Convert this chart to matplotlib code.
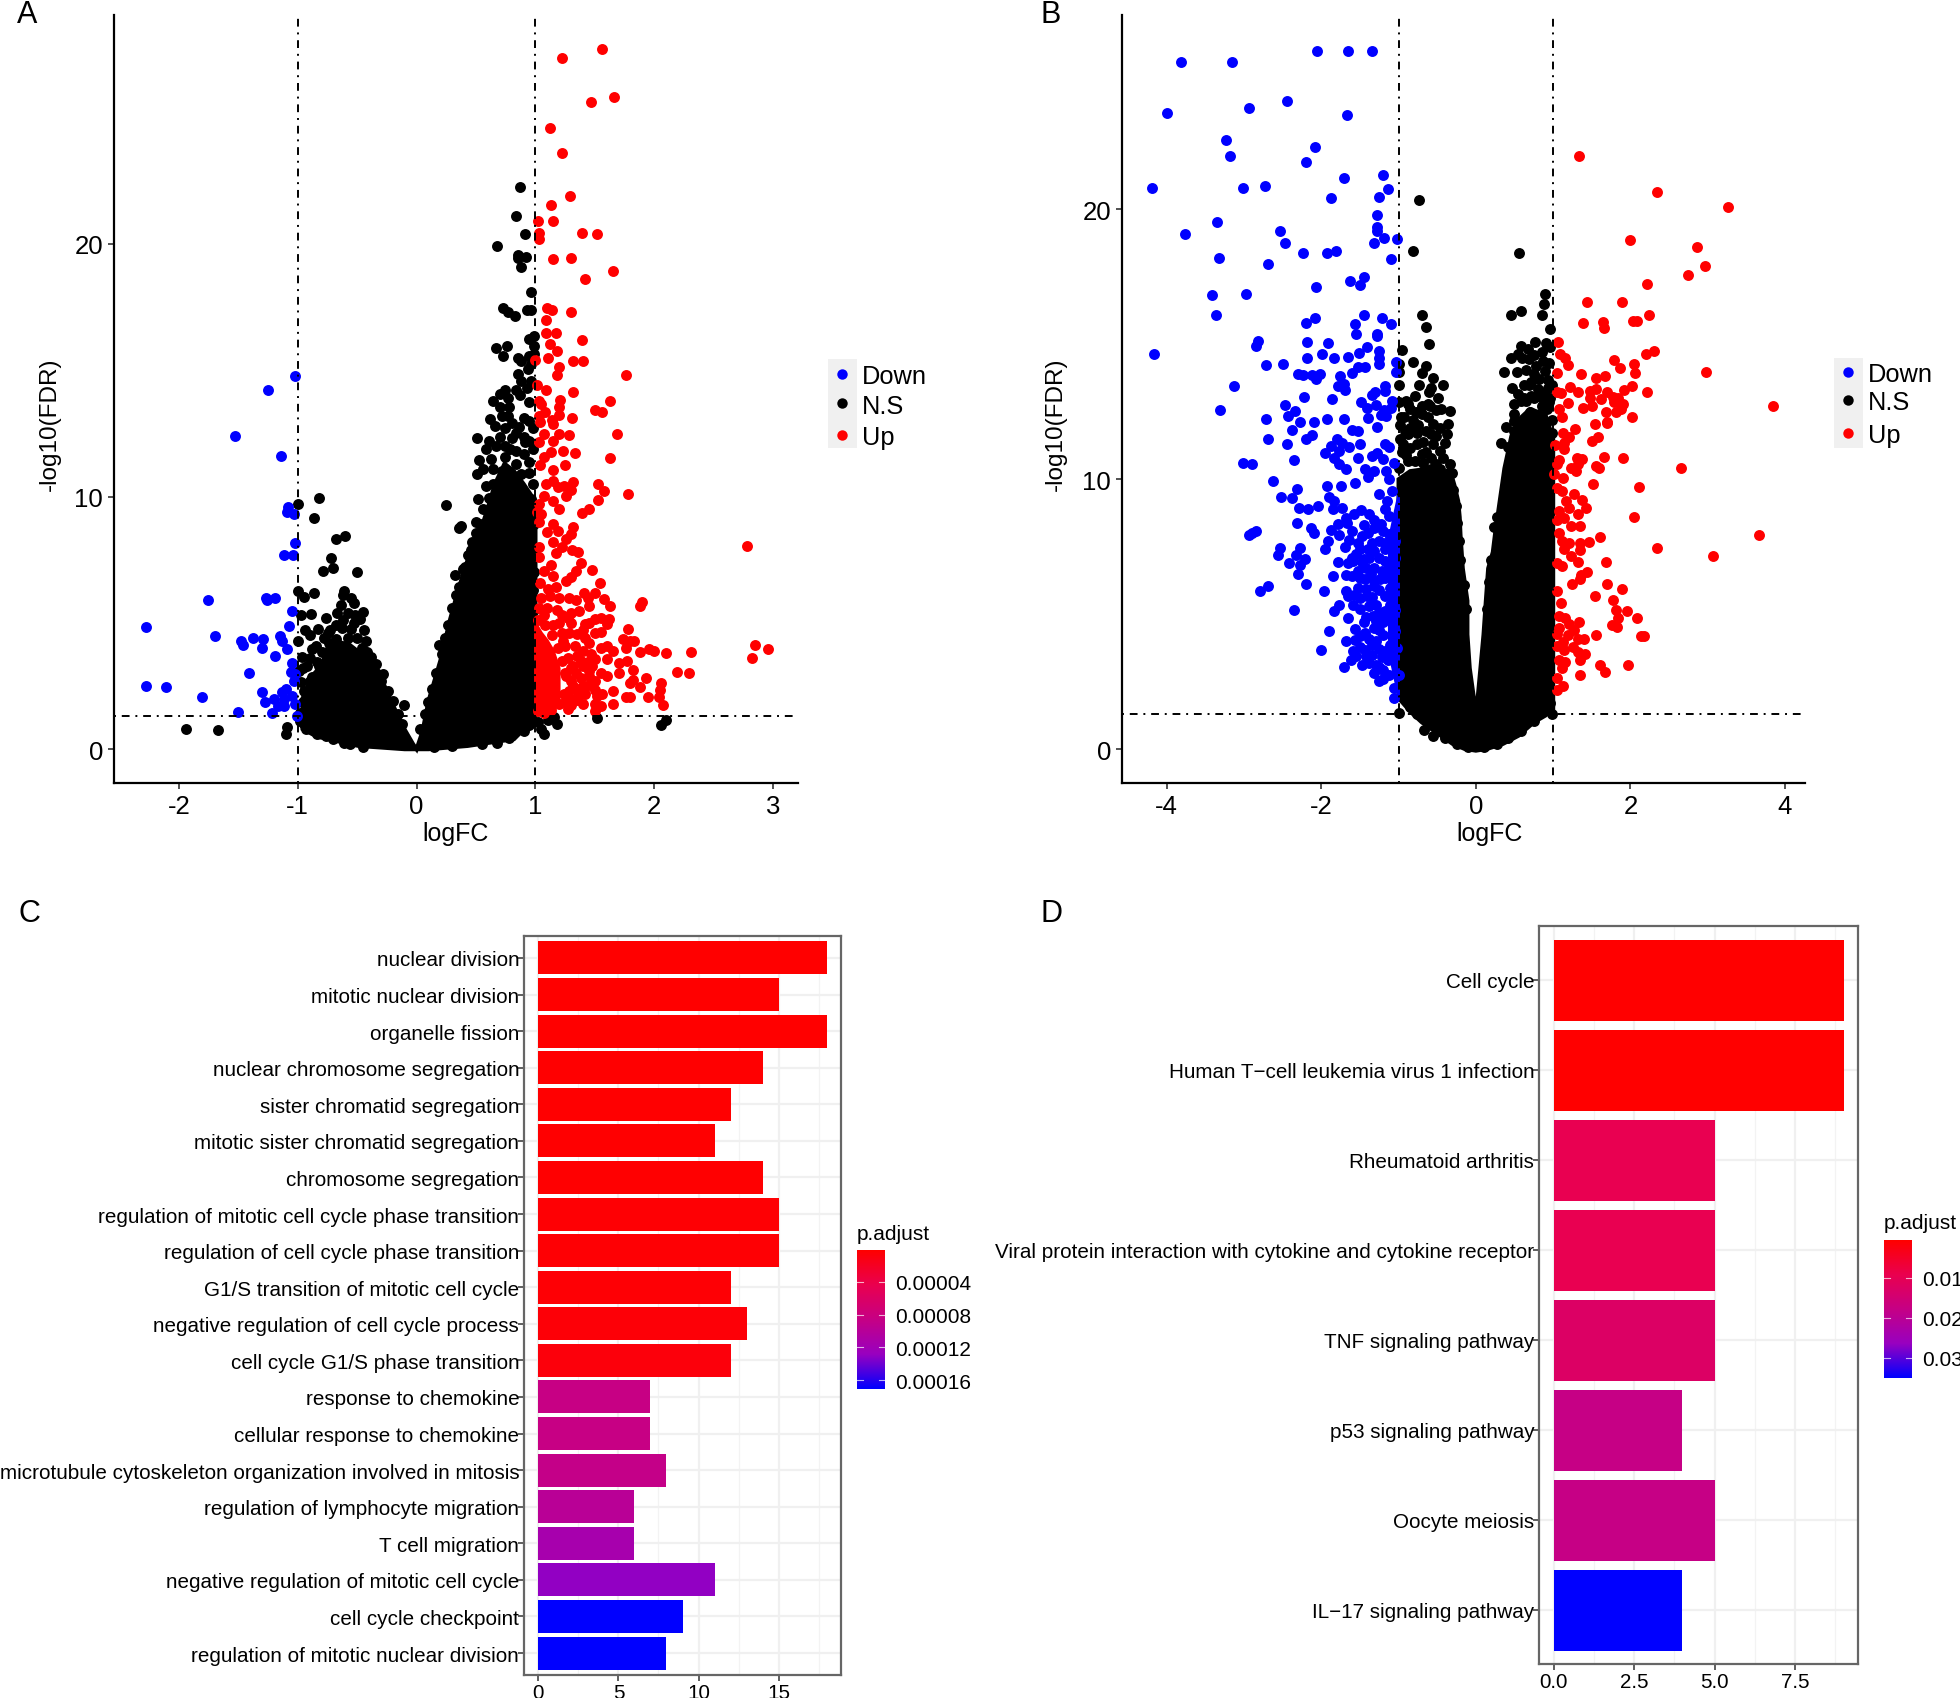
import matplotlib
matplotlib.use("Agg")
import matplotlib.pyplot as plt
import numpy as np
from matplotlib.colors import LinearSegmentedColormap
from matplotlib.lines import Line2D
from matplotlib.patches import Rectangle

plt.rcParams['font.family'] = ['Liberation Sans', 'DejaVu Sans']
plt.rcParams['axes.unicode_minus'] = False

W, H = 1960, 1699

# panel A as (logFC, -log10 FDR)
a_down = [(-1.02,14.77),(-1.25,14.23),(-1.53,12.4),(-1.14,11.6),(-1.08,9.6),(-1.09,9.37),(-1.03,9.3),(-1.02,8.15),
          (-1.12,7.7),(-1.04,7.67),(-1.76,5.92),(-1.27,5.98),(-1.26,5.9),(-1.19,6.0),(-1.05,5.48),(-2.28,4.83),
          (-1.07,4.89),(-1.70,4.46),(-1.48,4.3),(-1.46,4.13),(-1.38,4.4),(-1.29,4.35),(-1.15,4.49),(-1.13,4.29),
          (-1.30,4.0),(-1.09,3.97),(-1.19,3.7),(-1.05,3.4),(-1.41,3.0),(-1.06,3.06),(-1.02,2.97),(-1.03,2.68),
          (-2.28,2.5),(-2.11,2.46),(-1.81,2.07),(-1.10,2.38),(-1.30,2.25),(-1.13,2.25),(-1.05,2.1),(-1.20,1.98),
          (-1.28,1.88),(-1.12,1.98),(-1.17,1.72),(-1.12,1.69),(-1.02,1.78),(-1.5,1.47),(-1.22,1.45),(-1.01,1.32)]
a_up = [(1.56,27.7),(1.22,27.36),(1.66,25.8),(1.47,25.6),(1.12,24.58),(1.22,23.6),(1.29,21.9),(1.13,21.54),(1.02,20.9),
        (1.15,20.9),(1.03,20.43),(1.39,20.43),(1.52,20.4),(1.03,20.2),(1.15,19.4),(1.30,19.44),(1.65,18.94),(1.42,18.6),
        (1.1,17.46),(1.14,17.4),(1.3,17.3),(1.09,17),(1.09,16.46),(1.17,16.47),(1.39,16.2),(1.12,16.04),(1.18,15.77),
        (1.11,15.5),(1.0,15.4),(1.32,15.36),(1.4,15.35),(1.2,15.14),(1.18,14.8),(1.76,14.8),(1.01,14.43),(1.09,14.2),
        (1.32,14.12),(1.21,13.83),(1.03,13.8),(1.05,13.66),(1.63,13.77),(1.2,13.53),(1.08,13.33),(1.5,13.42),(1.56,13.36),
        (1.03,13.2),(1.2,13.23),(1.14,13.03),(1.31,13.1),(1.04,12.95),(1.15,12.88),(1.2,12.48),(1.28,12.42),(1.69,12.48),
        (1.07,12.48),(1.15,12.2),(1.03,12.15),(1.23,11.8),(1.33,11.73),(1.13,11.76),(1.07,11.56),(1.63,11.53),(1.04,11.23),
        (1.25,11.23),(1.15,11.06),(1.53,10.5),(1.32,10.57),(1.58,10.2),(1.78,10.1),(1.15,10.63),(1.09,10.5),(1.19,10.37),
        (1.24,10.43),(1.3,10.24),(1.26,10.04),(1.07,10.04),(1.15,9.84),(1.53,9.87),(1.03,9.7),(1.2,9.5),(1.45,9.5),(1.39,9.34),
        (1.01,9.38),(1.05,9.31),(1.03,8.98),(1.15,8.92),(1.32,8.78),(1.19,8.65),(1.3,8.52),(1.1,8.61),(1.26,8.32),(1.15,8.19),
        (1.03,7.99),(1.22,7.99),(1.31,7.9),(1.36,7.79),(1.17,7.78),(2.78,8.03),(1.03,7.6),(1.38,7.36),(1.13,7.3),(1.48,7.09),
        (1.34,7.07),(1.07,7.07),(1.15,6.87),(1.3,6.83),(1.54,6.59),(1.26,6.67),(1.04,6.57),(1.17,6.43),(1.11,6.34),(1.41,6.2),
        (1.5,6.17),(1.44,5.98),(1.58,5.94),(1.28,5.98),(1.34,5.9),(1.9,5.84),(1.88,5.65),(1.63,5.65),(1.45,5.68),(1.05,6.0),
        (1.78,4.75),(1.74,4.37),(1.8,4.3),(1.83,4.28),(1.76,4.0),(1.88,3.85),(1.96,3.95),(2.0,3.87),(2.1,3.8),(2.31,3.85),
        (2.85,4.14),(2.96,3.95),(2.82,3.6),(1.77,3.5),(1.82,3.15),(2.19,3.05),(2.29,3.0),(1.93,2.8),(1.82,2.75),(1.8,2.6),
        (1.88,2.45),(2.06,2.6),(2.05,2.35),(2.04,2.05),(1.95,2.05),(1.8,2.05),(1.76,2.05),(2.07,1.75),(1.65,2.3),(1.65,1.8),
        (1.5,1.5),(1.52,2.1),(1.56,2.2),(1.5,2.7),(1.6,2.9),(1.7,3.0),(1.7,3.4),(1.65,3.9),(1.55,4.0),(1.6,4.1),(1.5,4.6),
        (1.55,4.65),(1.6,4.95),(1.5,5.15),(1.55,5.2),(1.62,5.15),(1.45,5.0),(1.4,4.7),(1.42,4.4),(1.45,4.2),(1.35,4.55),
        (1.3,5.0),(1.3,5.4),(1.37,5.45),(1.28,4.6),(1.4,3.9),(1.47,3.75),(1.35,3.7),(1.5,3.55),(1.4,3.3),(1.32,3.3),(1.45,3.1),
        (1.55,3.0),(1.38,2.8),(1.45,2.55),(1.3,2.7),(1.35,2.4),(1.42,2.2),(1.5,2.35),(1.4,1.8),(1.3,2.0),(1.35,1.95),(1.5,1.8),
        (1.3,1.75),(1.55,1.7),(1.27,1.6),(1.25,3.0),(1.27,3.6),(1.25,4.1),(1.22,4.6),(1.22,5.3),(1.18,5.5),(1.2,6.0),(1.12,6.05),
        (1.1,5.6),(1.2,5.0),(1.15,4.9),(1.07,5.3),(1.03,5.6),(1.3,3.2),(1.28,2.3),(1.23,4.3),(1.33,4.1),(1.38,3.5),(1.45,2.9),
        (1.02,5.1),(1.08,4.9),(1.14,4.5),(1.19,4.0),(1.22,3.5),(1.26,2.9),(1.24,2.2),(1.2,1.8),(1.13,1.55),(1.07,1.45),(1.02,1.5),
        (1.34,3.0),(1.36,2.1),(1.44,3.45),(1.25,1.85),(1.6,3.55),(1.32,2.5),(1.42,4.95),(1.27,5.2),(1.48,3.3),(1.4,2.5)]
a_ns = [(.87,22.27),(.84,21.1),(.91,20.4),(.68,19.93),(.85,19.57),(.92,19.5),(.85,19.46),(.88,19.1),(.965,18.1),(.73,17.46),
        (.77,17.3),(.83,17.16),(.93,17.4),(.965,17.4),(.99,16.37),(.95,16.23),(.67,15.86),(.76,15.96),(.73,15.56),(.99,15.97),
        (.85,15.47),(.88,15.38),(.99,15.64),(.95,15.55),(.96,15.25),(.94,15.05),(.85,14.83),(.88,14.58),(.965,14.58),(.93,14.3),
        (.84,14.2),(.74,14.2),(.7,14.05),(.64,13.8),(.77,13.9),(.87,14.0),(.95,13.75),(.7,13.55),(.78,13.55),(.62,13.05),
        (.72,13.2),(.77,13.2),(.95,13.0),(.865,12.75),(.84,12.5),(.51,12.3),(.61,12.2),(.70,12.35),(.8,12.3),(.9,12.35),(.95,12.2),
        (.74,12.0),(.84,11.8),(.915,12.15),(.525,11.45),(.625,11.5),(.74,11.55),(.84,11.3),(.95,11.35),(.51,10.9),(.645,11.1),
        (.95,10.95),(.52,9.9),(.61,9.95),(.7,10.1),(.25,9.68),(.375,8.85),(.36,8.75),(.5,9.0),(.5,8.55),(.965,8.5),(.43,7.7),
        (.39,7.13),(.32,6.9),(.19,4.12),(-.11,1.76),(.10,1.85),(.21,3.76),
        (.66,12.8),(.74,12.7),(.8,12.9),(.9,13.1),(.98,12.7),(.67,12.0),(.79,11.9),(.9,11.7),(.98,11.9),(.58,11.9),(.56,11.1),
        (.72,11.0),(.79,10.8),(.88,10.9),(.98,10.5),(.58,10.4),(.64,10.5),(.56,9.5),(.9,9.9),(.96,9.9),(.47,8.2),(.53,8.9),
        (.41,7.2),(.46,7.9),(.36,6.4),(.3,5.6),(.26,4.9),(.24,4.4),(.16,3.0),(.13,2.4),(.07,1.4),(.03,.8),(.36,5.9),(.33,6.1),
        (.97,9.4),(.99,8.9),(.98,7.9),(.99,7.0),(.98,6.3),(.99,5.5),
        (-.82,9.93),(-1.0,9.7),(-.86,9.15),(-.6,8.45),(-.68,8.3),(-.72,7.57),(-.7,7.17),(-.79,7.04),(-.505,7.03),(-1,6.27),(-.86,6.2),
        (-.95,6.04),(-.61,6.27),(-.62,6.1),(-.55,6.0),(-.53,5.77),(-.64,5.72),(-.45,5.42),(-.97,5.3),(-.89,5.35),(-.76,5.2),
        (-.475,5.15),(-.62,5.1),(-.525,5.0),(-.94,4.73),(-.83,4.75),(-.725,4.7),(-.63,4.8),(-.44,4.7),(-.9,4.5),(-1,4.27),(-.425,4.3),
        (-.88,3.96),(-.8,3.83),(-.965,3.63),(-.38,3.63),(-.92,3.3),(-.34,3.37),(-.99,3.1),(-.84,3.43),(-.28,2.97),(-.97,2.64),
        (-.88,2.84),(-.92,2.3),(-.86,2.18),(-.96,1.85),(-.88,1.9),(-.98,1.45),(-.88,.92),(-1.09,.86),(-1.1,.6),(-1.94,.79),(-1.67,.75),
        (-.84,.6),(-.76,.53),(-.67,.53),(-.61,.26),(-.455,.1),(-.95,1.0),
        (-.74,4.2),(-.68,4.35),(-.58,4.4),(-.5,4.4),(-.46,4.0),(-.42,3.85),(-.34,3.0),(-.3,2.7),(-.24,2.3),(-.2,1.9),(-.16,1.4),
        (-.12,1.0),(-.82,3.3),(-.9,2.7),(-.95,2.3),(-.93,1.7),(-.98,1.1),(-.93,.8),(-.86,.75),(-.7,.4),(-.56,.2),
        (-.75,4.6),(-.67,5.4),(-.58,5.4),(-.52,5.3),(-.68,4.9),(-.55,4.75),(-.85,4.1),(-.78,4.4),(-.9,3.6),(-.96,3.2),(-.72,3.6),
        (1.02,1.06),(1.07,.6),(1.05,.8),(1.11,1.15),(1.16,1.28),(1.185,.99),(1.52,1.23),(2.06,.96),(2.1,1.15),(.9,.7),(.78,.46),
        (.95,.95),(.68,.25),(.55,.2),(.3,.12),(.15,.1)]
# outlines of the areas where the points merge into solid colour
a_ns_core_x = [-.96,-.88,-.8,-.73,-.57,-.42,-.34,-.26,-.19,-.11,-.03,0,.05,.1,.2,.28,.35,.43,.51,.59,.66,.74,.82,.9,1.0,1.0,.82,.43,.1,-.1,-.49,-.84,-.96]
a_ns_core_y = [2.0,2.9,3.3,4.3,4.15,3.6,3.2,2.4,1.65,.85,.2,0,.7,1.9,3.5,5.1,6.3,7.5,8.25,9.4,10.5,11.3,11,10.5,9.8,1.25,.4,.13,0,0,.13,.5,.8]
a_up_core_x = [1.0,1.05,1.1,1.15,1.2,1.2,1.15,1.1,1.05,1.0]
a_up_core_y = [5.0,4.6,4.3,3.9,3.2,1.8,1.7,1.6,1.5,1.7]

# panel B
b_down = [(-2.05,25.87),(-1.66,25.85),(-1.35,25.85),(-3.82,25.46),(-3.15,25.46),(-2.45,24.0),(-2.94,23.77),(-4.0,23.56),(-1.67,23.5),
          (-3.24,22.57),(-2.08,22.3),(-3.18,21.97),(-2.2,21.77),(-1.71,21.18),(-1.2,21.26),(-4.19,20.8),(-3.01,20.8),(-2.73,20.87),
          (-1.14,20.77),(-1.88,20.43),(-1.26,20.46),(-1.28,19.8),(-3.35,19.54),(-1.28,19.34),(-1.28,19.18),(-3.76,19.1),(-2.53,19.2),
          (-1.19,18.95),(-1.02,18.92),(-2.47,18.75),(-1.32,18.74),(-2.24,18.39),(-1.93,18.39),(-1.81,18.45),(-3.33,18.2),(-1.1,18.16),
          (-2.69,17.97),(-1.45,17.51),(-1.63,17.33),(-1.5,17.2),(-2.07,17.12),(-3.42,16.84),(-2.97,16.87),(-3.36,16.1),(-1.45,16.1),
          (-1.22,15.96),(-2.08,15.96),(-2.2,15.8),(-1.56,15.76),(-1.1,15.77),(-1.55,15.4),(-1.28,15.4),(-1.28,15.3),(-2.18,15.09),
          (-1.92,15.06),(-2.82,15.11),(-2.84,14.95),(-4.17,14.65),(-1.41,14.89),(-1.25,14.76),(-1.99,14.65),(-1.51,14.67),(-1.65,14.54),
          (-1.84,14.49),(-2.18,14.48),(-1.25,14.49),(-2.72,14.25),(-2.49,14.27),(-1.25,14.27),(-1.53,14.17),(-1.44,14.15),(-1.03,14.33),
          (-1.04,13.96),(-2.3,13.89),(-2.24,13.87),(-2.12,13.87),(-2.02,13.9),(-2.07,13.73),(-1.76,13.82),(-1.6,13.92),(-3.13,13.45),
          (-1.79,13.46),(-1.71,13.53),(-1.7,13.3),(-1.17,13.46),(-1.17,13.28),(-1.31,13.25),(-1.35,13.12),(-2.23,13.06),(-1.86,12.97),
          (-1.49,12.85),(-2.47,12.76),(-1.29,12.76),(-1.41,12.64),(-1.09,12.9),(-1.1,12.64),(-3.31,12.58),(-2.34,12.54),(-1.19,12.56),
          (-1.23,12.38),(-1.16,12.35),(-2.43,12.35),(-2.72,12.25),(-1.39,12.27),(-1.93,12.25),(-1.71,12.23),(-2.28,12.14),(-2.1,12.14),
          (-1.28,11.92),(-2.38,11.82),(-1.53,11.8),(-1.6,11.82),(-2.69,11.5),(-2.12,11.63),(-2.2,11.49),(-2.45,11.32),(-1.8,11.49),
          (-1.73,11.36),(-1.5,11.3),(-1.18,11.3),(-1.87,11.24),(-1.64,11.2),(-1.95,10.99),(-1.77,11.05),(-1.28,10.99),(-1.12,11.18),
          (-1.83,10.8),(-1.53,10.8),(-1.34,10.87),(-1.2,10.74),(-2.36,10.7),(-3.01,10.59),(-2.9,10.56),(-1.77,10.56),(-1.06,10.62),
          (-1.68,10.37),(-1.44,10.37),(-1.32,10.3),(-1.16,10.3),(-1.4,10.09),(-1.12,10.0),(-2.63,9.94),(-1.57,9.88),(-1.93,9.75),
          (-1.74,9.75),(-2.32,9.63),(-1.26,9.47),(-2.52,9.36),(-2.38,9.32),(-1.9,9.34),(-1.83,9.2),(-1.09,9.57),(-1.15,9.2),(-2.04,9.0),
          (-2.17,8.89),(-2.29,8.92),(-1.85,8.89),(-1.73,8.92),(-1.18,8.89),(-1.49,8.85),(-1.58,8.7),(-1.38,8.7),(-1.12,8.64),(-1.68,8.58),
          (-1.32,8.51),(-2.31,8.39),(-1.79,8.33),(-1.67,8.39),(-1.23,8.33),(-1.32,8.2),(-1.87,8.14),(-2.14,8.2),(-2.09,8.02),(-2.85,8.08),
          (-2.9,8.0),(-2.94,7.92),(-1.77,7.93),(-1.12,7.96),(-1.47,7.9),(-1.64,7.77),(-1.92,7.71),(-1.53,7.65),(-1.35,7.65),(-1.17,7.65),
          (-1.05,7.71),(-1.7,7.49),(-1.95,7.4),(-2.53,7.44),(-2.27,7.44),(-1.5,7.4),(-1.32,7.34),(-1.17,7.4),(-2.33,7.18),(-2.56,7.18),
          (-2.21,7.04),(-2.42,6.89),(-2.28,6.82),(-1.78,6.94),(-1.59,6.97),(-1.38,7.09),(-1.17,6.97),(-1.05,7.09),(-2.3,6.5),(-1.85,6.42),
          (-1.68,6.47),(-1.53,6.6),(-1.32,6.72),(-1.14,6.66),(-1.5,6.35),(-1.32,6.22),(-1.17,6.35),(-2.2,6.13),(-2.69,6.06),(-2.8,5.88),
          (-1.96,5.88),(-1.68,5.85),(-1.53,5.97),(-1.32,6.04),(-1.11,5.97),(-1.65,5.67),(-1.41,5.67),(-1.77,5.36),(-1.17,5.67),(-1.59,5.34),
          (-1.38,5.3),(-1.29,5.36),(-1.11,5.36),(-2.36,5.17),(-1.83,5.11),(-1.17,5.11),(-1.05,5.17),(-1.66,4.85),(-1.29,4.74),(-1.11,4.86),
          (-1.56,4.47),(-1.32,4.49),(-1.9,4.37),(-1.44,4.31),(-1.2,4.25),(-1.05,4.37),(-1.68,4.0),(-1.56,4.06),(-1.29,4.0),(-1.11,3.87),
          (-2.0,3.68),(-1.59,3.63),(-1.44,3.69),(-1.17,3.63),(-1.02,3.75),(-1.62,3.32),(-1.35,3.51),(-1.47,3.13),(-1.29,3.13),(-1.14,3.32),
          (-1.71,3.03),(-1.32,2.82),(-1.13,2.76),(-1.25,2.51),(-1.0,2.76),(-1.06,2.26),(-1.06,1.89),
          (-1.4,7.4),(-1.45,7.05),(-1.55,7.25),(-1.42,6.7),(-1.44,6.3),(-1.6,6.4),(-1.25,7.1),(-1.22,6.6),(-1.25,5.9),(-1.42,5.95),(-1.5,5.6),
          (-1.25,5.1),(-1.42,4.9),(-1.5,4.2),(-1.2,4.7),(-1.38,4.1),(-1.22,3.4),(-1.38,3.2),(-1.2,2.95),(-1.4,8.0),(-1.25,7.7),(-1.6,8.1),
          (-1.6,7.1),(-1.65,6.9),(-1.36,6.5),(-1.48,6.95),(-1.24,6.3),(-1.58,5.7),(-1.35,5.65),(-1.5,5.2),(-1.33,4.95),(-1.45,4.7),(-1.22,4.95),
          (-1.25,4.4),(-1.5,3.8),(-1.35,3.85),(-1.25,3.7),(-1.42,3.45),(-1.55,3.45),(-1.25,3.05),(-1.2,2.6),(-1.45,8.3),(-1.2,8.1)]
b_up = [(1.34,21.97),(2.35,20.64),(3.26,20.09),(2.0,18.85),(2.86,18.6),(2.97,17.92),(2.75,17.55),(2.22,17.24),(1.44,16.58),(1.89,16.58),
        (2.24,16.1),(1.39,15.79),(1.64,15.82),(1.66,15.6),(2.03,15.85),(2.08,15.85),(1.06,15.07),(1.09,14.64),(1.16,14.49),(1.19,14.25),
        (2.31,14.76),(2.2,14.64),(1.79,14.41),(2.05,14.28),(1.86,14.12),(2.06,13.95),(2.98,13.98),(1.05,13.94),(1.36,13.89),(1.55,13.75),
        (1.67,13.84),(2.02,13.46),(1.22,13.41),(1.32,13.22),(1.48,13.28),(1.56,13.34),(1.7,13.25),(1.92,13.3),(2.22,13.22),(1.05,13.22),
        (1.1,13.18),(1.48,13.03),(1.62,12.98),(1.78,13.06),(1.84,13.03),(1.79,12.85),(1.19,12.81),(1.91,12.78),(1.5,12.73),(1.39,12.65),
        (3.85,12.73),(1.07,12.6),(1.88,12.6),(1.69,12.5),(1.82,12.51),(2.02,12.31),(1.7,12.14),(1.11,12.3),(1.54,12.04),(1.7,12.07),
        (1.28,11.87),(1.13,11.73),(1.2,11.57),(1.58,11.55),(1.5,11.42),(1.14,11.36),(1.02,11.27),(1.14,11.14),(1.66,10.83),(1.91,10.8),
        (1.31,10.78),(1.37,10.74),(1.08,10.7),(1.32,10.56),(1.55,10.5),(1.6,10.43),(2.65,10.43),(1.23,10.43),(1.05,10.56),(1.29,10.31),
        (1.01,10.2),(1.13,10.04),(1.52,9.81),(2.11,9.7),(1.05,9.69),(1.11,9.57),(1.27,9.47),(1.38,9.22),(1.17,9.2),(1.42,8.95),(1.2,8.95),
        (1.08,8.82),(1.32,8.7),(2.05,8.6),(1.14,8.58),(1.05,8.51),(1.23,8.27),(1.35,8.27),(1.08,8.02),(1.61,7.86),(3.66,7.93),(1.11,7.71),
        (1.35,7.65),(1.47,7.67),(1.2,7.65),(2.34,7.45),(1.14,7.4),(1.35,7.38),(3.07,7.15),(1.23,7.15),(1.32,6.93),(1.69,6.93),(1.05,6.9),
        (1.11,6.78),(1.44,6.57),(1.36,6.47),(1.35,6.31),(1.25,6.14),(1.7,6.13),(1.89,5.93),(1.05,5.88),(1.54,5.69),(1.77,5.53),(1.1,5.41),
        (1.82,5.16),(1.95,5.11),(1.07,4.95),(2.08,4.88),(1.84,4.86),(1.15,4.86),(1.34,4.7),(1.2,4.64),(1.76,4.59),(1.83,4.53),(1.07,4.49),
        (1.27,4.43),(1.55,4.25),(2.14,4.21),(2.17,4.2),(1.19,4.22),(1.05,4.28),(1.32,4.1),(1.4,4.1),(1.13,3.97),(1.05,3.81),(1.14,3.69),
        (1.26,3.77),(1.32,3.6),(1.41,3.54),(1.35,3.32),(1.08,3.32),(1.15,3.25),(1.61,3.13),(1.97,3.13),(1.11,3.0),(1.67,2.85),(1.35,2.76),
        (1.05,2.64),(1.13,2.36),(1.05,2.2)]
b_ns = [(-.74,20.33),(-.82,18.45),(.56,18.39),(.89,16.87),(.88,16.49),(.59,16.23),(.46,16.1),(.86,16.08),(-.7,16.08),(-.65,15.63),(.96,15.58),
        (.76,15.09),(.91,15.05),(-.61,15.03),(.59,14.93),(.96,14.89),(-.96,14.79),(.68,14.83),(.55,14.64),(.46,14.49),(.69,14.45),(.87,14.39),
        (-.82,14.36),(-1,14.27),(-.65,14.21),(.78,14.21),(.53,13.98),(.37,13.96),(.65,14.05),(.9,14.02),(-.7,13.92),(-1,13.96),(.75,13.9),
        (-.55,13.75),(.93,13.68),(-.42,13.5),(-.73,13.5),(-1,13.5),(.69,13.5),(-.58,13.4),(.47,13.38),(.81,13.34),(.93,13.4),(-.61,13.22),
        (-.79,13.09),(-.49,13.03),(.55,13.16),(.75,13.03),(.96,13.03),(-1,12.85),(-.88,12.78),(-.7,12.72),(.49,12.78),(-.52,12.56),(-.34,12.54),
        (-.85,12.6),(-.97,12.29),(-.7,12.41),(.5,12.41),(.65,12.9),(.85,12.7),(-.55,12.04),(-.36,12.04),(-.88,11.67),(-.76,11.73),(-.58,11.67),
        (-.37,11.67),(-.76,11.3),(-.4,11.36),(-.91,11.08),(-.64,11.03),(-.47,11.05),(-.88,10.68),(-.58,10.8),(-.34,10.58),(-.79,10.68),(-.52,10.56),
        (-.31,10.25),(-1,10.43),(-.58,10.37),(.39,11.92),(.5,12.17),(.32,11.35),(.24,8.23),(-1,1.36),(-.85,1.58),(.99,1.3),(.75,1.03),(-.67,.72),
        (-.55,.5),(.58,.66),(.96,1.71),(-.76,1.3),(-.98,11.5),(-.96,11.0),(-.85,11.9),(-.98,12.0),
        (.62,13.5),(.72,13.6),(.82,13.7),(.88,13.2),(.98,13.5),(.58,12.9),(.7,12.5),(.8,12.3),(.92,12.6),(.99,12.2),(.5,11.8),(.42,11.2),
        (.98,11.7),(-.93,12.3),(-.82,12.2),(-.62,12.3),(-.46,11.9),(-.94,11.3),(-.68,11.4),(-.55,11.3),(-.85,11.15),(-.42,10.8),(-.68,10.6),
        (-.46,10.4),(-.37,10.0),(-.3,9.6),(-.26,9.0),(-.24,8.4),(-.22,7.7),(-.2,7.0),(-.15,6.1),(-.13,5.2),(.28,8.6),(.2,7.0),(.17,6.2),(.14,5.2),
        (-.1,.1),(.1,.1),(-.25,.2),(.27,.2),(-.4,.4),(.42,.4),
        (-.92,11.8),(-.75,12.0),(-.65,11.8),(-.52,11.6),(-.9,10.9),(-.7,10.95),(-.6,12.7),(-.45,12.6),(-.9,12.9),(-.78,12.5),(-.62,12.8),
        (.6,14.5),(.75,14.6),(.85,14.7),(.95,14.3),(.62,13.0),(.72,13.1),(.84,13.05),(.95,12.85)]
b_ns_core_x = [0,-.15,-.3,-.45,-.7,-.85,-1.0,-1.0,-.85,-.6,-.45,-.34,-.28,-.23,-.21,-.2,-.17,-.11,-.11,-.08,-.02,0,.02,.06,.1,.13,.16,.22,.25,.31,.37,.46,.55,.7,.9,1.0,1.0,.9,.75,.55,.35,.15]
b_ns_core_y = [-.05,.02,.2,.5,1.0,1.4,1.9,10.0,10.3,10.4,10.1,10.4,9.8,9.2,8.6,7.96,6.7,5.5,4.25,3,1.77,1.3,1.77,3,4.25,5.5,6.7,7.3,8,9.2,10.4,11.6,12.2,12.6,12.4,11.5,1.5,1.25,1.0,.5,.2,.02]
b_down_core_x = [-1.12,-1.0,-1.0,-1.12]
b_down_core_y = [7.8,9.4,2.0,3.6]

# enrichment bars
c_terms = ["nuclear division", "mitotic nuclear division", "organelle fission", "nuclear chromosome segregation",
           "sister chromatid segregation", "mitotic sister chromatid segregation", "chromosome segregation",
           "regulation of mitotic cell cycle phase transition", "regulation of cell cycle phase transition",
           "G1/S transition of mitotic cell cycle", "negative regulation of cell cycle process",
           "cell cycle G1/S phase transition", "response to chemokine", "cellular response to chemokine",
           "microtubule cytoskeleton organization involved in mitosis", "regulation of lymphocyte migration",
           "T cell migration", "negative regulation of mitotic cell cycle", "cell cycle checkpoint",
           "regulation of mitotic nuclear division"]
c_counts = [18, 15, 18, 14, 12, 11, 14, 15, 15, 12, 13, 12, 7, 7, 8, 6, 6, 11, 9, 8]
c_padj = [0.000001, 0.000001, 0.000001, 0.000002, 0.000002, 0.000002, 0.000002, 0.000003, 0.000003, 0.000004, 0.000005, 0.000007,
          0.000085, 0.000085, 0.000088, 0.000098, 0.000115, 0.00013, 0.000171, 0.000171]
c_ticks = [0.00004, 0.00008, 0.00012, 0.00016]
c_tick_labels = ["0.00004", "0.00008", "0.00012", "0.00016"]

d_terms = ["Cell cycle", "Human T\u2212cell leukemia virus 1 infection", "Rheumatoid arthritis",
           "Viral protein interaction with cytokine and cytokine receptor", "TNF signaling pathway",
           "p53 signaling pathway", "Oocyte meiosis", "IL\u221217 signaling pathway"]
d_counts = [9, 9, 5, 5, 5, 4, 5, 4]
d_padj = [0.0005, 0.0006, 0.0095, 0.0095, 0.0125, 0.0178, 0.0178, 0.035]
d_ticks = [0.01, 0.02, 0.03]
d_tick_labels = ["0.01", "0.02", "0.03"]

cmap = LinearSegmentedColormap.from_list("padj", [(0, "#ff0000"), (.25, "#ea004f"), (.5, "#c60085"), (.75, "#9900c0"), (1, "#0000ff")])


def px_axes(fig, left, right, top, bottom):
    return fig.add_axes([left / W, 1 - bottom / H, (right - left) / W, (bottom - top) / H])


def volcano(ax, ns, ns_x, ns_y, down, up, xlim, ylim, xticks, yticks, xlabel_pos, ylabel_pos):
    size = 62
    ax.fill(ns_x, ns_y, color="black", lw=3)
    ax.scatter(*zip(*ns), s=size, c="black", lw=0)
    ax.scatter(*zip(*down), s=size, c="#0000ff", lw=0)
    ax.scatter(*zip(*up), s=size, c="#ff0000", lw=0)
    dash = (0, (1, 3, 4, 3))
    ax.axvline(-1, color="black", lw=1.4, ls=dash)
    ax.axvline(1, color="black", lw=1.4, ls=dash)
    ax.axhline(1.3, color="black", lw=1.4, ls=dash)
    ax.set_xlim(xlim)
    ax.set_ylim(ylim)
    ax.set_xticks(xticks)
    ax.set_yticks(yticks)
    ax.spines[["top", "right"]].set_visible(False)
    ax.spines[["left", "bottom"]].set_linewidth(1.6)
    ax.tick_params(length=4, width=1.2, labelsize=18.5, color="#333333", pad=4)
    ax.set_xlabel("logFC", fontsize=18)
    ax.set_ylabel("-log10(FDR)", fontsize=17.5)
    ax.xaxis.set_label_coords(*xlabel_pos)
    ax.yaxis.set_label_coords(*ylabel_pos)


def legend(fig, left, right, top, bottom, mark_x, text_x, ys):
    fig.add_artist(Rectangle((left / W, 1 - bottom / H), (right - left) / W, (bottom - top) / H,
                             transform=fig.transFigure, color="#f0f0f0", lw=0))
    for name, col, y in zip(["Down", "N.S", "Up"], ["#0000ff", "black", "#ff0000"], ys):
        fig.add_artist(Line2D([mark_x / W], [1 - y / H], marker="o", ms=7.5, mew=0, color=col, transform=fig.transFigure))
        fig.text(text_x / W, 1 - y / H, name, fontsize=18.3, va="center_baseline", ha="left")


def bars(ax, terms, counts, padj, vmin, vmax, xlim, xticks):
    pos = np.arange(len(terms), 0, -1)
    cols = cmap((np.array(padj) - vmin) / (vmax - vmin))
    ax.set_axisbelow(True)
    ax.grid(True, which="major", color="#f0f0f0", lw=1.6)
    ax.grid(True, which="minor", axis="x", color="#f3f3f3", lw=0.9)
    ax.barh(pos, counts, height=0.9, color=cols, edgecolor="none")
    ax.set_yticks(pos)
    ax.set_yticklabels(terms)
    ax.set_xticks(xticks)
    ax.set_xticks([(a + b) / 2 for a, b in zip(xticks[:-1], xticks[1:])] + [xticks[-1] + (xticks[1] - xticks[0]) / 2], minor=True)
    ax.set_xlim(xlim)
    ax.set_ylim(0.4, len(terms) + 0.6)
    ax.tick_params(which="minor", length=0)
    ax.tick_params(which="major", length=4, width=1.1, color="#333333", labelsize=14.9, pad=1.5)
    ax.tick_params(axis="y", which="major", pad=-0.5)
    for s in ax.spines.values():
        s.set_color("#666666")
        s.set_linewidth(1.6)


def colorbar(fig, left, right, top, bottom, vmin, vmax, ticks, labels, title_y, label_x):
    cax = px_axes(fig, left, right, top, bottom)
    grad = np.linspace(0, 1, 256).reshape(-1, 1)
    cax.imshow(grad, aspect="auto", cmap=cmap, extent=[0, 1, vmax, vmin])
    for t, lab in zip(ticks, labels):
        cax.plot([0, .2], [t, t], color="white", lw=0.8, alpha=.7)
        cax.plot([.8, 1], [t, t], color="white", lw=0.8, alpha=.7)
        cax.annotate(lab, (1, t), xycoords=("axes fraction", "data"), xytext=(label_x - right, 0),
                     textcoords="offset pixels", va="center_baseline", fontsize=15)
    cax.set_xlim(0, 1)
    cax.set_ylim(vmax, vmin)
    cax.axis("off")
    fig.text(left / W, 1 - title_y / H, "p.adjust", fontsize=15, va="center_baseline")


fig = plt.figure(figsize=(W / 100, H / 100), dpi=100)

ax_a = px_axes(fig, 114, 798, 16, 784)
volcano(ax_a, a_ns, a_ns_core_x, a_ns_core_y, a_down, a_up, (-2.547, 3.21), (-1.34, 29.06), [-2, -1, 0, 1, 2, 3], [0, 10, 20],
        (0.5, -0.049), (-0.077, 0.468))
ax_a.fill(a_up_core_x, a_up_core_y, color="#ff0000", lw=2)

ax_b = px_axes(fig, 1122, 1805, 16, 784)
volcano(ax_b, b_ns, b_ns_core_x, b_ns_core_y, b_down, b_up, (-4.58, 4.26), (-1.25, 27.2), [-4, -2, 0, 2, 4], [0, 10, 20],
        (0.538, -0.049), (-0.08, 0.468))
ax_b.fill(b_down_core_x, b_down_core_y, color="#0000ff", lw=2)

legend(fig, 828, 857, 360, 449, 842, 862, [375, 404, 436])
legend(fig, 1834, 1863, 359, 449, 1848, 1868, [373, 401, 434])

ax_c = px_axes(fig, 524, 841, 937, 1676)
bars(ax_c, c_terms, c_counts, c_padj, 0.000001, 0.000171, (-0.9, 18.9), [0, 5, 10, 15])
colorbar(fig, 857, 885, 1251, 1390, 0.000001, 0.000171, c_ticks, c_tick_labels, 1233, 895)

ax_d = px_axes(fig, 1539, 1858, 927, 1665)
bars(ax_d, d_terms, d_counts, d_padj, 0.0005, 0.035, (-0.45, 9.45), [0, 2.5, 5, 7.5])
colorbar(fig, 1884, 1912, 1241, 1379, 0.0005, 0.035, d_ticks, d_tick_labels, 1222, 1922)

for letter, x, y in [("A", 27, 15), ("B", 1051, 15), ("C", 29, 914), ("D", 1051, 914)]:
    fig.text(x / W, 1 - y / H, letter, fontsize=22, ha="center", va="center")

fig.savefig("out.png", dpi=100)
